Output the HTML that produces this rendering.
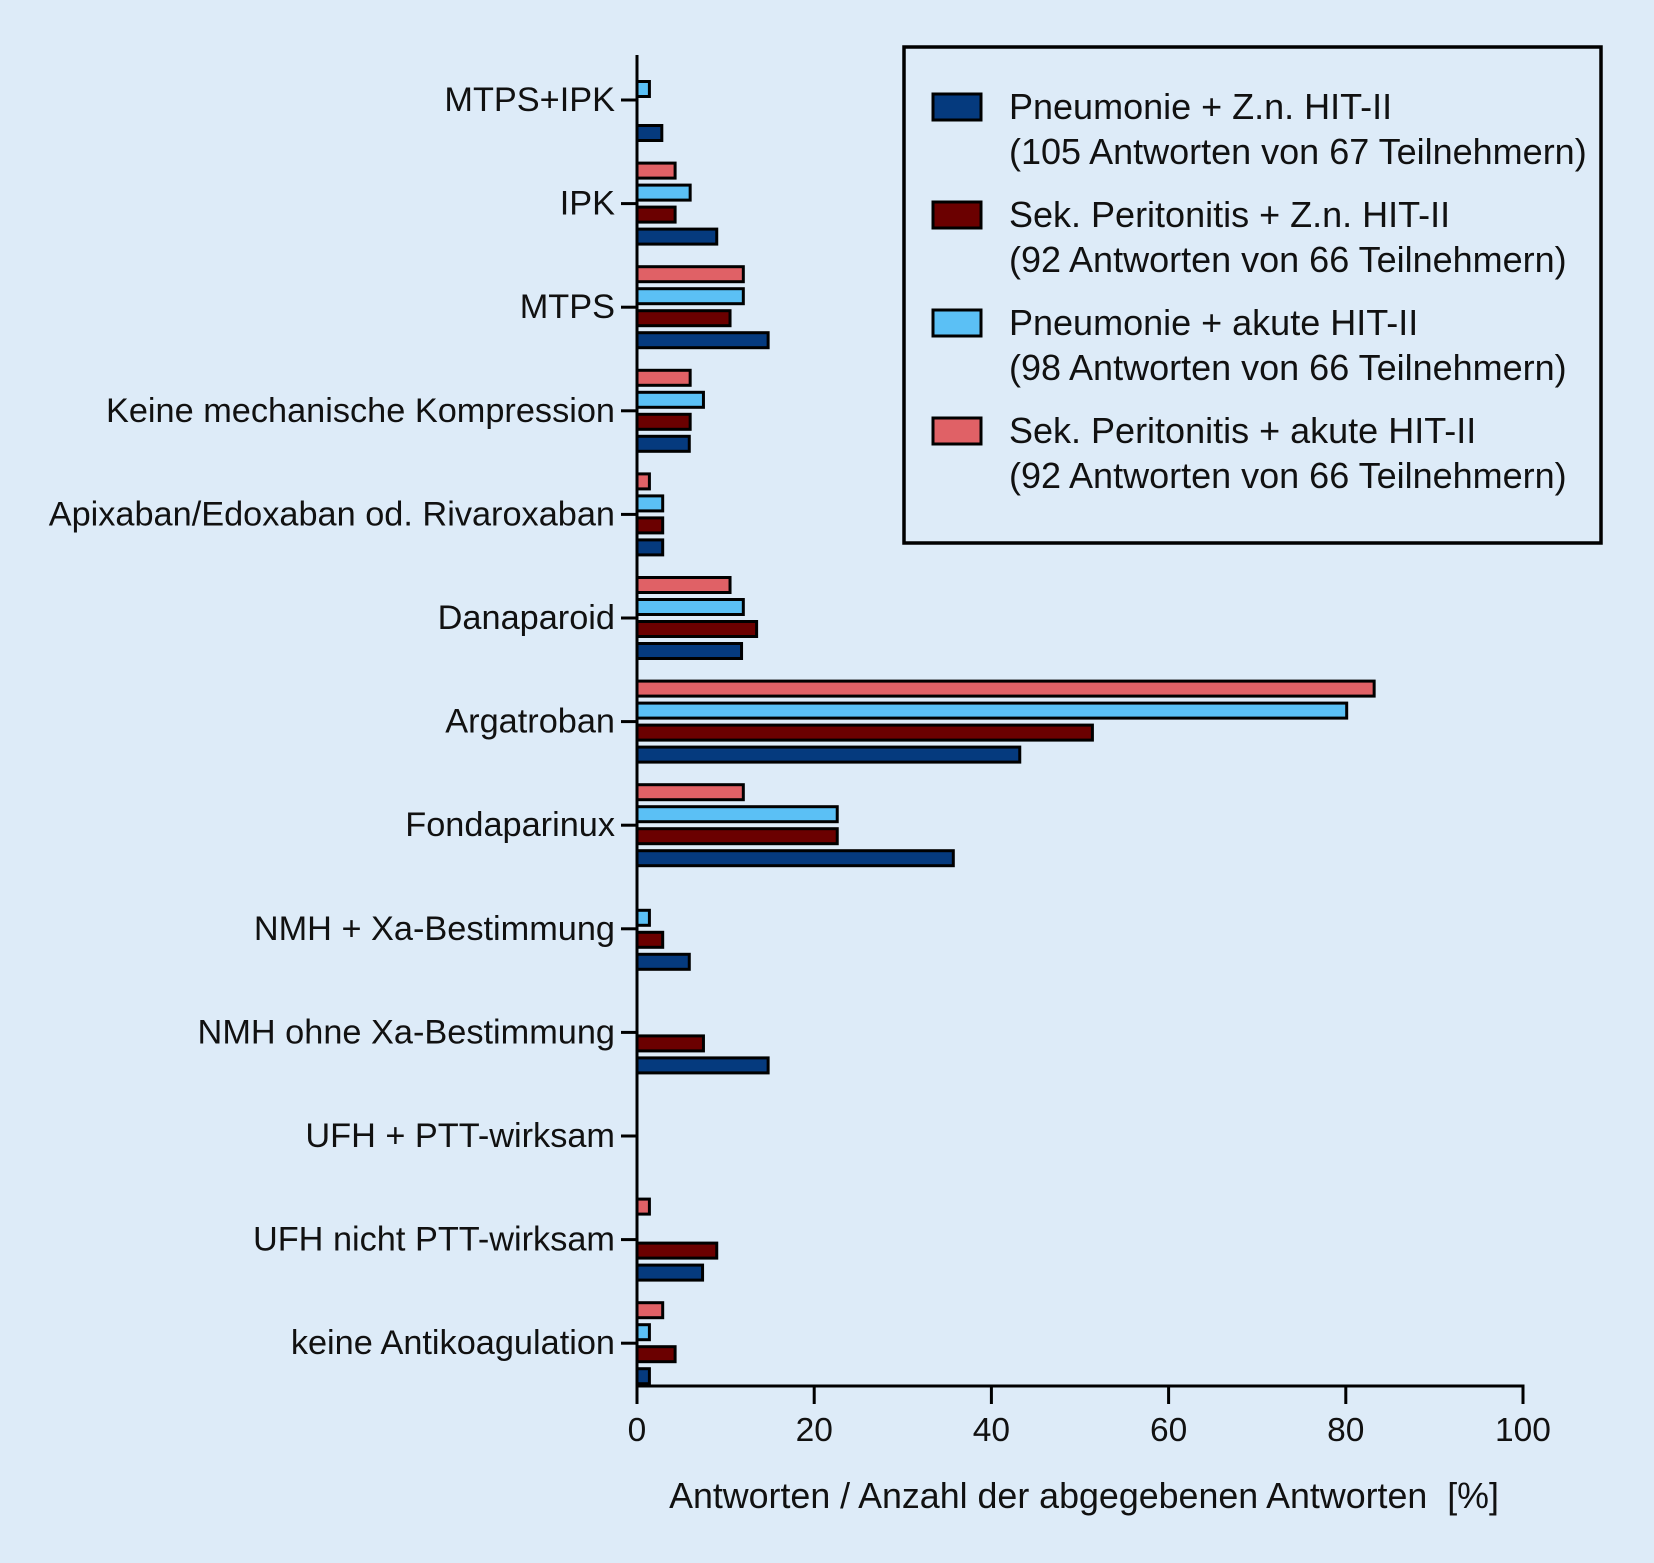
<!DOCTYPE html>
<html><head><meta charset="utf-8"><style>
body{margin:0;background:#ddebf8;}
svg{display:block;font-family:"Liberation Sans",sans-serif;}
</style></head><body>
<svg id="chart" width="1654" height="1563" viewBox="0 0 1654 1563">
<rect width="1654" height="1563" fill="#ddebf8"/>
<g id="bars"></g><g id="axes"></g><g id="legend"></g>
</svg>
<script>
const categories=["MTPS+IPK","IPK","MTPS","Keine mechanische Kompression","Apixaban/Edoxaban od. Rivaroxaban","Danaparoid","Argatroban","Fondaparinux","NMH + Xa-Bestimmung","NMH ohne Xa-Bestimmung","UFH + PTT-wirksam","UFH nicht PTT-wirksam","keine Antikoagulation"];
const seriesNames=["Pneumonie + Z.n. HIT-II","Sek. Peritonitis + Z.n. HIT-II","Pneumonie + akute HIT-II","Sek. Peritonitis + akute HIT-II"];
const seriesSub=["(105 Antworten von 67 Teilnehmern)","(92 Antworten von 66 Teilnehmern)","(98 Antworten von 66 Teilnehmern)","(92 Antworten von 66 Teilnehmern)"];
const navyVals=[2.8,9,14.8,5.9,2.9,11.8,43.2,35.7,5.9,14.8,0,7.4,1.4];
const darkRedVals=[0,4.3,10.5,6,2.9,13.5,51.4,22.6,2.9,7.5,0,9,4.3];
const lightBlueVals=[1.4,6,12,7.5,2.9,12,80.1,22.6,1.4,0,0,0,1.4];
const pinkVals=[0,4.3,12,6,1.4,10.5,83.2,12,0,0,0,1.4,2.9];
const xTicks=[0,20,40,60,80,100];
const colors=["#053a7e","#6b0000","#5bc0f5","#e06166"];
const NS="http://www.w3.org/2000/svg";
const x0=637,x1=1523,yTop=55,yBot=1386,cat0=100,catStep=103.6;
const xs=v=>x0+(x1-x0)*v/100;
const yc=i=>cat0+i*catStep;
function mk(t,a,p){const e=document.createElementNS(NS,t);for(const k in a)e.setAttribute(k,a[k]);p.appendChild(e);return e;}
const bars=document.getElementById('bars'),axes=document.getElementById('axes'),leg=document.getElementById('legend');
const series=[navyVals,darkRedVals,lightBlueVals,pinkVals];
const offs=[33,11,-11,-33];
series.forEach((vals,s)=>{vals.forEach((v,i)=>{if(v<=0)return;
 const r=mk('rect',{x:xs(0),y:yc(i)+offs[s]-7.5,width:xs(v)-xs(0),height:15,fill:colors[s],stroke:'#000','stroke-width':3},bars);
 
 
});});
let l=mk('line',{x1:x0,y1:yTop,x2:x0,y2:yBot+1.5,stroke:'#000','stroke-width':3},axes);

l=mk('line',{x1:x0-1.5,y1:yBot,x2:x1+1.5,y2:yBot,stroke:'#000','stroke-width':3},axes);

categories.forEach((c,i)=>{
 mk('line',{x1:x0-16,y1:yc(i),x2:x0,y2:yc(i),stroke:'#000','stroke-width':3},axes);
 const t=mk('text',{x:615,y:yc(i)+11,'text-anchor':'end','font-size':34.3,fill:'#111'},axes);t.textContent=c;
 
});
xTicks.forEach(v=>{
 mk('line',{x1:xs(v),y1:yBot,x2:xs(v),y2:yBot+18,stroke:'#000','stroke-width':3},axes);
 const t=mk('text',{x:xs(v),y:1441,'text-anchor':'middle','font-size':33.5,fill:'#111'},axes);t.textContent=v;
 
});
let tt=mk('text',{x:1084,y:1508,'text-anchor':'middle','font-size':35.8,fill:'#111'},axes);
tt.setAttribute('xml:space','preserve');
tt.style.whiteSpace='pre';
tt.textContent="Antworten / Anzahl der abgegebenen Antworten  [%]";

let box=mk('rect',{x:904,y:47,width:697,height:496,fill:'none',stroke:'#000','stroke-width':3.5},leg);

seriesNames.forEach((n,s)=>{
 const y=107+s*108;
 const r=mk('rect',{x:933,y:y-13,width:48,height:26,fill:colors[s],stroke:'#000','stroke-width':3},leg);
 
 const t=mk('text',{x:1009,y:y+12,'font-size':36,fill:'#111'},leg);t.textContent=n;
 
 const t2=mk('text',{x:1009,y:y+57,'font-size':36,fill:'#111'},leg);t2.textContent=seriesSub[s];
 
});
</script>
</body></html>
